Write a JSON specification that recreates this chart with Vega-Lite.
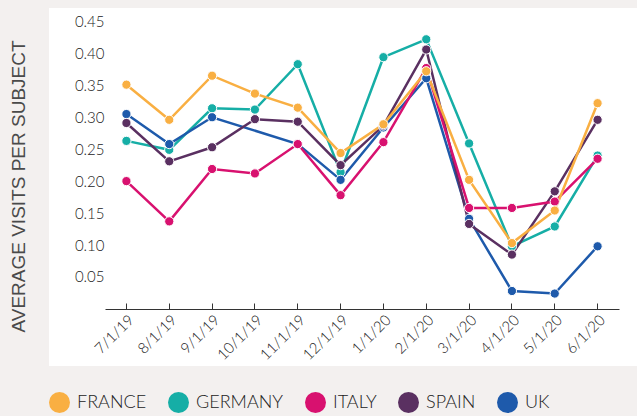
{
  "$schema": "https://vega.github.io/schema/vega-lite/v6.json",
  "width": 588,
  "height": 358,
  "autosize": {"type": "none"},
  "padding": {"left": 49, "top": 8, "right": 0, "bottom": 50},
  "background": "#f3f0ef",
  "config": {
    "view": {"fill": "white", "stroke": null},
    "font": "Lato"
  },
  "data": {
    "values": [
      {"country": "GERMANY", "month": "7/1/19", "visits": 0.263},
      {"country": "GERMANY", "month": "8/1/19", "visits": 0.249},
      {"country": "GERMANY", "month": "9/1/19", "visits": 0.314},
      {"country": "GERMANY", "month": "10/1/19", "visits": 0.312},
      {"country": "GERMANY", "month": "11/1/19", "visits": 0.383},
      {"country": "GERMANY", "month": "12/1/19", "visits": 0.214},
      {"country": "GERMANY", "month": "1/1/20", "visits": 0.394},
      {"country": "GERMANY", "month": "2/1/20", "visits": 0.422},
      {"country": "GERMANY", "month": "3/1/20", "visits": 0.259},
      {"country": "GERMANY", "month": "4/1/20", "visits": 0.098},
      {"country": "GERMANY", "month": "5/1/20", "visits": 0.129},
      {"country": "GERMANY", "month": "6/1/20", "visits": 0.240},
      {"country": "UK", "month": "7/1/19", "visits": 0.305},
      {"country": "UK", "month": "8/1/19", "visits": 0.258},
      {"country": "UK", "month": "9/1/19", "visits": 0.300},
      {"country": "UK", "month": "11/1/19", "visits": 0.258},
      {"country": "UK", "month": "12/1/19", "visits": 0.202},
      {"country": "UK", "month": "1/1/20", "visits": 0.284},
      {"country": "UK", "month": "2/1/20", "visits": 0.361},
      {"country": "UK", "month": "3/1/20", "visits": 0.141},
      {"country": "UK", "month": "4/1/20", "visits": 0.028},
      {"country": "UK", "month": "5/1/20", "visits": 0.024},
      {"country": "UK", "month": "6/1/20", "visits": 0.098},
      {"country": "SPAIN", "month": "7/1/19", "visits": 0.291},
      {"country": "SPAIN", "month": "8/1/19", "visits": 0.231},
      {"country": "SPAIN", "month": "9/1/19", "visits": 0.253},
      {"country": "SPAIN", "month": "10/1/19", "visits": 0.297},
      {"country": "SPAIN", "month": "11/1/19", "visits": 0.293},
      {"country": "SPAIN", "month": "12/1/19", "visits": 0.225},
      {"country": "SPAIN", "month": "1/1/20", "visits": 0.287},
      {"country": "SPAIN", "month": "2/1/20", "visits": 0.406},
      {"country": "SPAIN", "month": "3/1/20", "visits": 0.133},
      {"country": "SPAIN", "month": "4/1/20", "visits": 0.085},
      {"country": "SPAIN", "month": "5/1/20", "visits": 0.184},
      {"country": "SPAIN", "month": "6/1/20", "visits": 0.296},
      {"country": "ITALY", "month": "7/1/19", "visits": 0.200},
      {"country": "ITALY", "month": "8/1/19", "visits": 0.137},
      {"country": "ITALY", "month": "9/1/19", "visits": 0.219},
      {"country": "ITALY", "month": "10/1/19", "visits": 0.212},
      {"country": "ITALY", "month": "11/1/19", "visits": 0.258},
      {"country": "ITALY", "month": "12/1/19", "visits": 0.178},
      {"country": "ITALY", "month": "1/1/20", "visits": 0.261},
      {"country": "ITALY", "month": "2/1/20", "visits": 0.377},
      {"country": "ITALY", "month": "3/1/20", "visits": 0.158},
      {"country": "ITALY", "month": "4/1/20", "visits": 0.158},
      {"country": "ITALY", "month": "5/1/20", "visits": 0.168},
      {"country": "ITALY", "month": "6/1/20", "visits": 0.235},
      {"country": "FRANCE", "month": "7/1/19", "visits": 0.351},
      {"country": "FRANCE", "month": "8/1/19", "visits": 0.296},
      {"country": "FRANCE", "month": "9/1/19", "visits": 0.365},
      {"country": "FRANCE", "month": "10/1/19", "visits": 0.337},
      {"country": "FRANCE", "month": "11/1/19", "visits": 0.315},
      {"country": "FRANCE", "month": "12/1/19", "visits": 0.244},
      {"country": "FRANCE", "month": "1/1/20", "visits": 0.289},
      {"country": "FRANCE", "month": "2/1/20", "visits": 0.372},
      {"country": "FRANCE", "month": "3/1/20", "visits": 0.202},
      {"country": "FRANCE", "month": "4/1/20", "visits": 0.103},
      {"country": "FRANCE", "month": "5/1/20", "visits": 0.154},
      {"country": "FRANCE", "month": "6/1/20", "visits": 0.322}
    ]
  },
  "encoding": {
    "x": {
      "field": "month",
      "type": "nominal",
      "sort": ["7/1/19", "8/1/19", "9/1/19", "10/1/19", "11/1/19", "12/1/19", "1/1/20", "2/1/20", "3/1/20", "4/1/20", "5/1/20", "6/1/20"],
      "scale": {"type": "band", "range": [56, 570], "paddingInner": 0, "paddingOuter": 0},
      "axis": {
        "title": null,
        "offset": -57,
        "bandPosition": 0.5,
        "labelAngle": -45,
        "labelFont": "Lato",
        "labelFontSize": 15,
        "labelFontWeight": 300,
        "labelColor": "#222222",
        "labelPadding": 9,
        "tickSize": -6,
        "tickColor": "#333333",
        "domainColor": "#333333",
        "grid": false
      }
    },
    "y": {
      "field": "visits",
      "type": "quantitative",
      "scale": {"domain": [-0.0894, 0.471], "nice": false, "zero": false},
      "axis": {
        "title": "AVERAGE VISITS PER SUBJECT",
        "titleFont": "Liberation Sans",
        "titleFontSize": 19,
        "titleFontWeight": "normal",
        "titleColor": "#4a4a4a",
        "titleX": -88,
        "titleY": 178,
        "titleAngle": -90,
        "titleAlign": "center",
        "titleBaseline": "middle",
        "values": [0.05, 0.1, 0.15, 0.2, 0.25, 0.3, 0.35, 0.4, 0.45],
        "format": ".2f",
        "offset": -57,
        "domain": false,
        "ticks": false,
        "grid": false,
        "labelPadding": 2,
        "labelFont": "Lato",
        "labelFontSize": 15,
        "labelFontWeight": 300,
        "labelColor": "#222222"
      }
    },
    "color": {
      "field": "country",
      "type": "nominal",
      "scale": {
        "domain": ["FRANCE", "GERMANY", "ITALY", "SPAIN", "UK"],
        "range": ["#F9AF42", "#16AEA6", "#D8116F", "#5A3061", "#1E5AAB"]
      },
      "legend": {
        "title": null,
        "orient": "none",
        "direction": "horizontal",
        "legendX": 0,
        "legendY": 384,
        "symbolType": "circle",
        "symbolSize": 441,
        "symbolStrokeWidth": 0,
        "symbolOpacity": 1,
        "labelFont": "Lato",
        "labelFontSize": 18,
        "labelFontWeight": 300,
        "labelColor": "#222222",
        "labelOffset": 7,
        "columnPadding": 21,
        "padding": 0
      }
    }
  },
  "layer": [
    {"mark": {"type": "line", "strokeWidth": 2.5}},
    {"mark": {"type": "point", "filled": true, "opacity": 1, "size": 85, "stroke": "white", "strokeWidth": 1}}
  ]
}
